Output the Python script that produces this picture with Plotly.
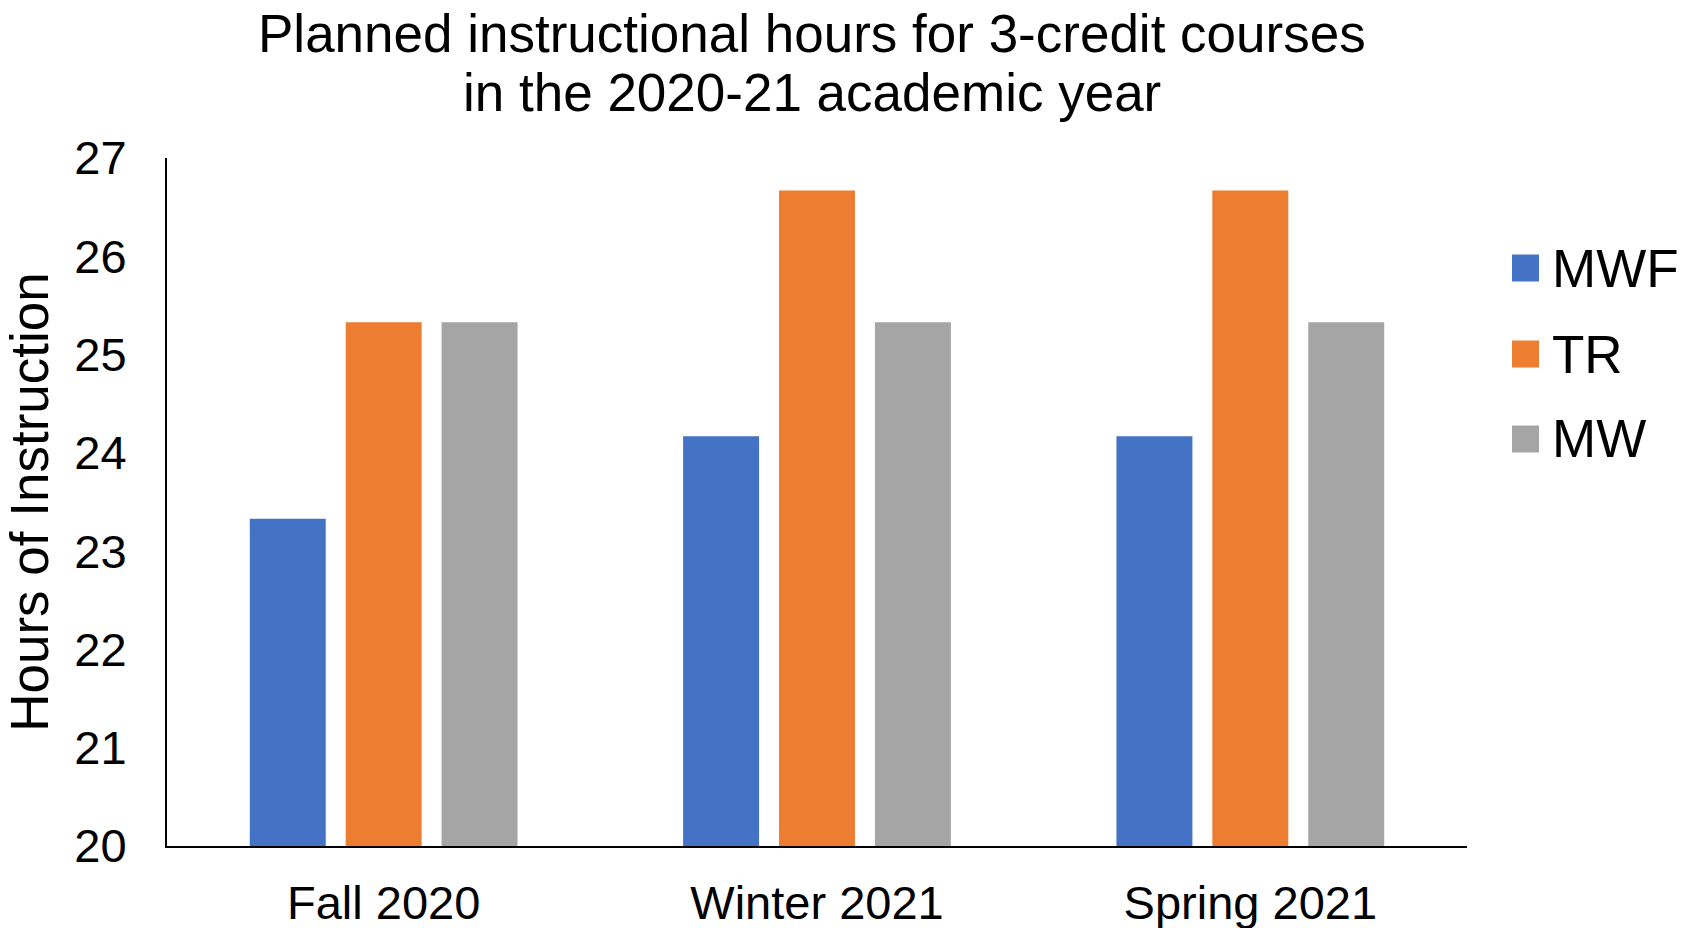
import plotly.graph_objects as go

# ---- data ----
terms = ["Fall 2020", "Winter 2021", "Spring 2021"]
series_names = ["MWF", "TR", "MW"]
mwf_hours = [23.33, 24.17, 24.17]
tr_hours = [25.33, 26.67, 26.67]
mw_hours = [25.33, 25.33, 25.33]
y_ticks = [20, 21, 22, 23, 24, 25, 26, 27]

colors = ["#4472C4", "#ED7D31", "#A5A5A5"]
series_values = [mwf_hours, tr_hours, mw_hours]

FONT = "Liberation Sans, Arial, sans-serif"
W, H = 1692, 928
L, R, T, B = 167, 225, 158, 82
PW, PH = W - L - R, H - T - B


def px_x(x):
    return (x - L) / PW


def px_y(y):
    return (H - B - y) / PH


fig = go.Figure()
for name, vals, col in zip(series_names, series_values, colors):
    fig.add_trace(go.Bar(x=terms, y=vals, name=name, marker_color=col,
                         marker_line_width=0, showlegend=False))

# custom legend (large swatches like the original)
legend_centers = [268, 354, 439]
for name, col, cy in zip(series_names, colors, legend_centers):
    fig.add_shape(type="rect", xref="paper", yref="paper",
                  x0=px_x(1512), x1=px_x(1539), y0=px_y(cy + 13.5), y1=px_y(cy - 13.5),
                  fillcolor=col, line_width=0)
    fig.add_annotation(text=name, xref="paper", yref="paper", x=px_x(1550), y=px_y(cy),
                       xanchor="left", yanchor="middle", showarrow=False,
                       font=dict(family=FONT, size=53, color="black"))

# title lines
title_lines = ["Planned instructional hours for 3-credit courses",
               "in the 2020-21 academic year"]
for line, cy in zip(title_lines, [33.6, 92.6]):
    fig.add_annotation(text=line, xref="paper", yref="paper", x=px_x(812), y=px_y(cy),
                       xanchor="center", yanchor="middle", showarrow=False,
                       font=dict(family=FONT, size=53, color="black"))

fig.update_layout(
    width=W, height=H,
    margin=dict(l=L, r=R, t=T, b=B, autoexpand=False),
    paper_bgcolor="white", plot_bgcolor="white",
    barmode="group", bargap=0.336, bargroupgap=0.208,
    font=dict(family=FONT, color="black"),
    showlegend=False,
)
fig.update_xaxes(showline=True, linecolor="black", linewidth=2, showgrid=False,
                 ticks="", tickfont=dict(family=FONT, size=47, color="black"),
                 ticklabelstandoff=15)
fig.update_yaxes(range=[20, 27], tickvals=y_ticks, showline=True, linecolor="black",
                 linewidth=2, showgrid=False, zeroline=False, ticks="",
                 tickfont=dict(family=FONT, size=47, color="black"),
                 ticklabelstandoff=29,
                 title=dict(text="Hours of Instruction", standoff=18,
                            font=dict(family=FONT, size=53, color="black")))

fig.write_html("out.html", config={"displayModeBar": False},
               post_script="document.body.style.margin='0';document.body.style.overflow='hidden';")
